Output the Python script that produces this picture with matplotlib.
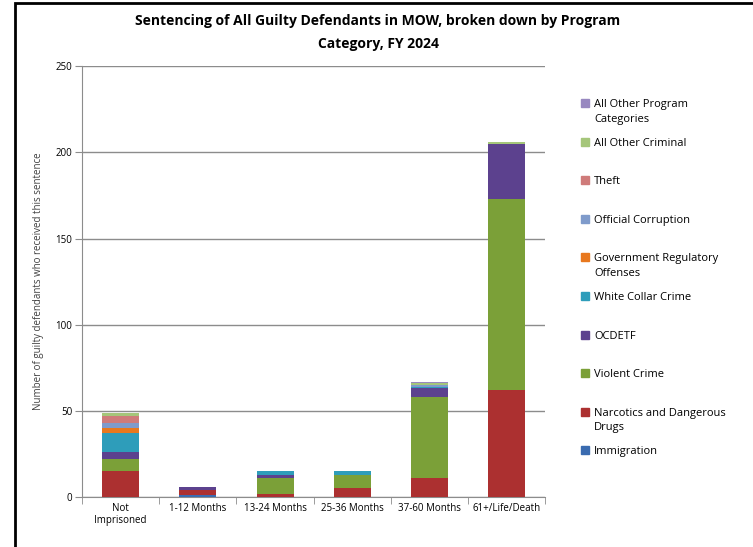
import matplotlib
matplotlib.use("Agg")
import matplotlib.pyplot as plt
import matplotlib.patches as mpatches
import numpy as np

plt.rcParams["font.family"] = ["Open Sans", "DejaVu Sans"]

# ── Data ────────────────────────────────────────────────────────────────────
categories = ["Not\nImprisoned", "1-12 Months", "13-24 Months", "25-36 Months",
              "37-60 Months", "61+/Life/Death"]

# stacked bottom -> top
series_names = ["Immigration", "Narcotics and Dangerous\nDrugs", "Violent Crime",
                "OCDETF", "White Collar Crime", "Government Regulatory\nOffenses",
                "Official Corruption", "Theft", "All Other Criminal",
                "All Other Program\nCategories"]

immigration   = [0, 1, 0, 0, 0, 0]
narcotics     = [15, 3, 2, 5, 11, 62]
violent       = [7, 0, 9, 8, 47, 111]
ocdetf        = [4, 2, 2, 0, 5, 32]
white_collar  = [11, 0, 2, 2, 1, 0]
gov_reg       = [3, 0, 0, 0, 0, 0]
official_corr = [3, 0, 0, 0, 1, 0]
theft         = [4, 0, 0, 0, 0, 0]
other_crim    = [2, 0, 0, 0, 1, 1]
other_program = [0, 0, 0, 0, 1, 0]

series_values = [immigration, narcotics, violent, ocdetf, white_collar, gov_reg,
                 official_corr, theft, other_crim, other_program]

colors = ["#3A6BB0", "#AC3030", "#7BA038", "#5C418E", "#2E9DBA", "#E8781E",
          "#7F9BCB", "#CF7B7A", "#A5C67A", "#9888C0"]

# ── Figure ──────────────────────────────────────────────────────────────────
fig = plt.figure(figsize=(7.53, 5.47), dpi=100)
ax = fig.add_axes([0.109, 0.0914, 0.615, 0.7876])

x = np.arange(len(categories))
bottom = np.zeros(len(categories))
for vals, col in zip(series_values, colors):
    v = np.array(vals, dtype=float)
    ax.bar(x, v, width=0.48, bottom=bottom, color=col, edgecolor="none", zorder=3)
    bottom += v

ax.set_xlim(-0.5, len(categories) - 0.5)
ax.set_ylim(0, 250)
ax.set_yticks(np.arange(0, 251, 50))
ax.yaxis.grid(True, color="#8c8c8c", linewidth=1)
ax.set_axisbelow(True)
for s in ["top", "right"]:
    ax.spines[s].set_visible(False)
for s in ["left", "bottom"]:
    ax.spines[s].set_color("#8c8c8c")
ax.tick_params(axis="y", length=5, color="#8c8c8c", labelsize=7, pad=2)

ax.set_xticks(x)
ax.set_xticklabels(categories, fontsize=7)
ax.tick_params(axis="x", length=0, pad=4)
ax.set_xticks(np.arange(-0.5, len(categories)), minor=True)
ax.tick_params(axis="x", which="minor", length=5, color="#8c8c8c")

ax.set_ylabel("Number of guilty defendants who received this sentence", fontsize=7,
              labelpad=8, color="#404040")

fig.text(0.502, 0.962, "Sentencing of All Guilty Defendants in MOW, broken down by Program",
         ha="center", va="center", fontsize=10, fontweight="bold")
fig.text(0.502, 0.920, "Category, FY 2024", ha="center", va="center",
         fontsize=10, fontweight="bold")

# ── Legend (top entry = last series) ─────────────────────────────────────────
H = 547.0
W = 753.0
y0 = 103.0
step = 38.6
for i, (name, col) in enumerate(zip(series_names[::-1], colors[::-1])):
    yc = y0 + i * step
    fig.patches.append(mpatches.Rectangle((581 / W, 1 - (yc + 4) / H), 8 / W, 8 / H,
                                          transform=fig.transFigure, color=col))
    fig.text(594 / W, 1 - (yc - 4) / H, name, ha="left", va="top", fontsize=8,
             linespacing=1.45)

# outer frame
fig.patches.append(mpatches.Rectangle((15 / W, -0.01), 1.0, 1 - 3 / H + 0.01,
                                      transform=fig.transFigure, fill=False,
                                      edgecolor="black", linewidth=2))

fig.savefig("out.png", dpi=100, facecolor="white")
